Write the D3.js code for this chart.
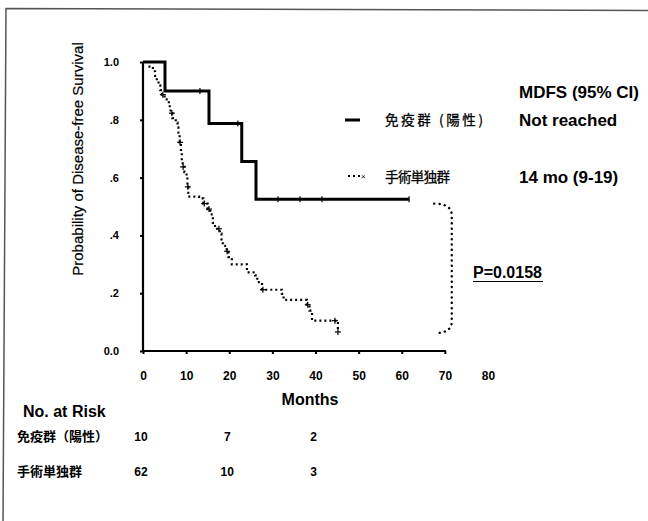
<!DOCTYPE html>
<html lang="ja">
<head>
<meta charset="UTF-8">
<title>Disease-free Survival</title>
<script src="https://d3js.org/d3.v7.min.js"></script>
<style>
  body { margin: 0; background: #fff; }
  svg { display: block; font-family: "Liberation Sans", Arial, sans-serif; }
  .jp { font-family: "Noto Sans CJK JP", sans-serif; }
</style>
</head>
<body>
<div id="chart"></div>
<script>
// Kaplan-Meier steps (months, survival after the step)
var immuneTimes  = [0, 5.1, 15.3, 22.9, 26.2, 61.7];
var immuneSurv   = [1.0, 0.9, 0.7875, 0.656, 0.525, 0.525];
var immuneCensor = [13.2, 22.0, 31.3, 36.4, 41.5, 61.7];

var surgeryTimes = [0, 1.5, 2.3, 2.8, 3.2, 3.6, 4.0, 4.4, 5.0, 6.0,
                    6.2, 6.4, 6.8, 7.6, 8.0, 8.2, 8.5, 8.8, 9.0, 9.2,
                    9.6, 10.1, 10.3, 10.5, 13.0, 14.0, 15.0, 15.6, 16.2, 16.7,
                    17.8, 18.2, 18.5, 19.4, 19.8, 20.6, 24.1, 26.0, 26.5, 27.6,
                    32.2, 32.6, 38.0, 38.6, 39.2, 45.2];
var surgerySurv  = [1.0, 0.984, 0.968, 0.952, 0.935, 0.919, 0.903, 0.887, 0.871, 0.855,
                    0.839, 0.823, 0.806, 0.790, 0.774, 0.756, 0.722, 0.688, 0.654, 0.637,
                    0.619, 0.602, 0.568, 0.534, 0.528, 0.510, 0.491, 0.473, 0.443, 0.423,
                    0.406, 0.386, 0.364, 0.345, 0.325, 0.300, 0.272, 0.262, 0.238, 0.212,
                    0.198, 0.177, 0.160, 0.140, 0.105, 0.066];
var surgeryCensor = [4.6, 6.7, 8.6, 9.3, 10.4, 14.2, 15.3, 17.6, 19.5, 27.8, 38.2, 44.5, 45.2];

var xTicks = [0, 10, 20, 30, 40, 50, 60, 70, 80];
var yTicks = [0, 0.2, 0.4, 0.6, 0.8, 1.0];
var yTickLabels = ["0.0", ".2", ".4", ".6", ".8", "1.0"];

var groupNames = ["免疫群 (陽性)", "手術単独群"];
var mdfsLabels = ["Not reached", "14 mo (9-19)"];

var riskTimes = [0, 20, 40];
var riskNames = ["免疫群（陽性）", "手術単独群"];
var riskImmune = [10, 7, 2];
var riskSurgery = [62, 10, 3];

// bracket joining the two curve ends (months / survival)
var bracketX = [67.5, 71.6];
var bracketY = [0.51, 0.062];

var width = 648, height = 521;

var svg = d3.select("#chart").append("svg")
    .attr("width", width)
    .attr("height", height);

// scanned frame, top and left edges
svg.append("path")
    .attr("d", "M648,10.5 L6,8.5 L3,521")
    .attr("fill", "none")
    .attr("stroke", "#555")
    .attr("stroke-width", 1.5);

var x = d3.scaleLinear().domain([0, 80]).range([143, 488]);
var y = d3.scaleLinear().domain([0, 1]).range([351, 62]);

// x axis
var xAxis = svg.append("g")
    .attr("transform", "translate(0," + y(0) + ")")
    .call(d3.axisBottom(x).tickValues(xTicks).tickSize(3).tickSizeOuter(0).tickPadding(17));
xAxis.select(".domain").remove();
xAxis.selectAll(".tick line").attr("stroke-width", 2)
    .filter(function (d) { return d > 70; }).remove();
xAxis.selectAll("text").attr("font-size", 12).attr("font-weight", "bold")
    .attr("font-family", "Liberation Sans, Arial, sans-serif").attr("fill", "#000");
svg.append("line")
    .attr("x1", x(0)).attr("x2", x(70) + 1)
    .attr("y1", y(0)).attr("y2", y(0))
    .attr("stroke", "#000").attr("stroke-width", 2);

// y axis
var yAxis = svg.append("g")
    .attr("transform", "translate(" + x(0) + ",0)")
    .call(d3.axisLeft(y).tickValues(yTicks).tickSize(3).tickSizeOuter(0).tickPadding(21)
        .tickFormat(function (d, i) { return yTickLabels[i]; }));
yAxis.select(".domain").remove();
yAxis.selectAll(".tick line").attr("stroke-width", 2);
yAxis.selectAll("text").attr("font-size", 11).attr("font-weight", "bold")
    .attr("font-family", "Liberation Sans, Arial, sans-serif").attr("fill", "#000");
svg.append("line")
    .attr("x1", x(0)).attr("x2", x(0))
    .attr("y1", y(1)).attr("y2", y(0) + 1)
    .attr("stroke", "#000").attr("stroke-width", 2.2);

svg.append("text")
    .attr("transform", "translate(83," + 159 + ") rotate(-90)")
    .attr("text-anchor", "middle")
    .attr("font-size", 15)
    .attr("stroke", "#000").attr("stroke-width", 0.2)
    .text("Probability of Disease-free Survival");

svg.append("text")
    .attr("x", 310).attr("y", 405)
    .attr("text-anchor", "middle")
    .attr("font-size", 16).attr("font-weight", "bold")
    .text("Months");

// curves
var step = d3.line()
    .x(function (d) { return x(d[0]); })
    .y(function (d) { return y(d[1]); })
    .curve(d3.curveStepAfter);

function survAt(times, surv, t) {
    var i = d3.bisectRight(times, t) - 1;
    return surv[Math.max(0, i)];
}

svg.append("path")
    .datum(d3.zip(immuneTimes, immuneSurv))
    .attr("d", step)
    .attr("fill", "none")
    .attr("stroke", "#000")
    .attr("stroke-width", 3);

svg.selectAll(".cens1")
    .data(immuneCensor)
    .enter().append("line")
    .attr("x1", function (d) { return x(d); })
    .attr("x2", function (d) { return x(d); })
    .attr("y1", function (d) { return y(survAt(immuneTimes, immuneSurv, d)) - 3; })
    .attr("y2", function (d) { return y(survAt(immuneTimes, immuneSurv, d)) + 3; })
    .attr("stroke", "#000").attr("stroke-width", 1.2);

svg.append("path")
    .datum(d3.zip(surgeryTimes, surgerySurv))
    .attr("d", step)
    .attr("fill", "none")
    .attr("stroke", "#000")
    .attr("stroke-width", 2.2)
    .attr("stroke-dasharray", "2,3");

var cross = svg.selectAll(".cens2")
    .data(surgeryCensor)
    .enter().append("g")
    .attr("transform", function (d) {
        return "translate(" + x(d) + "," + y(survAt(surgeryTimes, surgerySurv, d)) + ")";
    });
cross.append("line").attr("x1", -3).attr("x2", 3).attr("stroke", "#000").attr("stroke-width", 1.2);
cross.append("line").attr("y1", -3).attr("y2", 3).attr("stroke", "#000").attr("stroke-width", 1.2);

// bracket
var bx0 = x(bracketX[0]), bx1 = x(bracketX[1]);
var by0 = y(bracketY[0]), by1 = y(bracketY[1]);
svg.append("path")
    .attr("d", "M" + bx0 + "," + by0 +
        " Q" + bx1 + "," + by0 + " " + bx1 + "," + (by0 + 12) +
        " L" + bx1 + "," + (by1 - 12) +
        " Q" + bx1 + "," + by1 + " " + (bx0 + 1) + "," + by1)
    .attr("fill", "none")
    .attr("stroke", "#000")
    .attr("stroke-width", 2.4)
    .attr("stroke-linecap", "round")
    .attr("stroke-dasharray", "0.1,5.2");

svg.append("text")
    .attr("x", 473).attr("y", 278)
    .attr("font-size", 16).attr("font-weight", "bold")
    .text("P=0.0158");
svg.append("line")
    .attr("x1", 473).attr("x2", 543).attr("y1", 281.5).attr("y2", 281.5)
    .attr("stroke", "#000").attr("stroke-width", 1);

// legend
svg.append("line")
    .attr("x1", 345).attr("x2", 360).attr("y1", 120).attr("y2", 120)
    .attr("stroke", "#000").attr("stroke-width", 3);
svg.append("line")
    .attr("x1", 348).attr("x2", 360).attr("y1", 176).attr("y2", 176)
    .attr("stroke", "#000").attr("stroke-width", 2)
    .attr("stroke-dasharray", "2,3");
svg.append("text")
    .attr("x", 361).attr("y", 179)
    .attr("font-size", 8)
    .text("×");

var legendLen = [98, 65];
svg.selectAll(".gname")
    .data(groupNames)
    .enter().append("text")
    .attr("class", "jp")
    .attr("x", 385)
    .attr("y", function (d, i) { return i === 0 ? 125 : 182; })
    .attr("font-size", 13.5)
    .attr("stroke", "#000").attr("stroke-width", 0.3)
    .attr("textLength", function (d, i) { return legendLen[i]; })
    .attr("lengthAdjust", "spacing")
    .text(function (d) { return d; });

svg.append("text")
    .attr("x", 519).attr("y", 98)
    .attr("font-size", 17).attr("font-weight", "bold")
    .text("MDFS (95% CI)");
svg.selectAll(".mdfs")
    .data(mdfsLabels)
    .enter().append("text")
    .attr("x", 519)
    .attr("y", function (d, i) { return i === 0 ? 126 : 183; })
    .attr("font-size", 17).attr("font-weight", "bold")
    .text(function (d) { return d; });

// numbers at risk
svg.append("text")
    .attr("x", 23).attr("y", 417)
    .attr("font-size", 16).attr("font-weight", "bold")
    .text("No. at Risk");

var riskRows = [riskImmune, riskSurgery];
var rowY = [441, 476];
riskRows.forEach(function (row, r) {
    svg.append("text")
        .attr("class", "jp")
        .attr("x", 17).attr("y", rowY[r])
        .attr("font-size", 13).attr("font-weight", "bold")
        .text(riskNames[r]);
    svg.selectAll(".risk" + r)
        .data(row)
        .enter().append("text")
        .attr("x", function (d, i) { return x(riskTimes[i]) - 2; })
        .attr("y", rowY[r])
        .attr("text-anchor", "middle")
        .attr("font-size", 12).attr("font-weight", "bold")
        .text(function (d) { return d; });
});
</script>
</body>
</html>
